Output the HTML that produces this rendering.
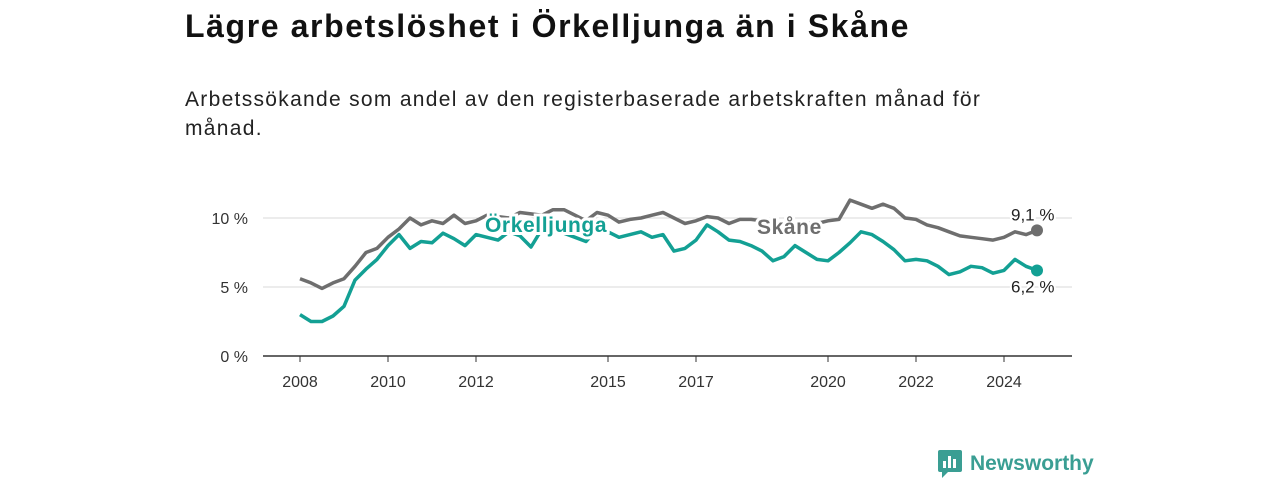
<!DOCTYPE html>
<html><head><meta charset="utf-8"><style>
body{margin:0;width:1280px;height:480px;background:#fff;font-family:"Liberation Sans",sans-serif;overflow:hidden;position:relative}
h1{position:absolute;left:185px;top:8px;margin:0;font-size:32px;font-weight:bold;color:#111;letter-spacing:1.6px}
p{position:absolute;left:185px;top:85px;margin:0;font-size:21px;line-height:29px;color:#222;width:860px;letter-spacing:1.3px}
svg{position:absolute;left:0;top:0}
</style></head><body>
<h1>Lägre arbetslöshet i Örkelljunga än i Skåne</h1>
<p>Arbetssökande som andel av den registerbaserade arbetskraften månad för månad.</p>
<svg id="c" width="1280" height="480"></svg>
<script>
const skane=[5.6,5.3,4.9,5.3,5.6,6.5,7.5,7.8,8.6,9.2,10.0,9.5,9.8,9.6,10.2,9.6,9.8,10.2,10.1,10.0,10.4,10.3,10.2,10.6,10.6,10.2,9.8,10.4,10.2,9.7,9.9,10.0,10.2,10.4,10.0,9.6,9.8,10.1,10.0,9.6,9.9,9.9,9.8,9.3,9.4,9.5,9.6,9.6,9.8,9.9,11.3,11.0,10.7,11.0,10.7,10.0,9.9,9.5,9.3,9.0,8.7,8.6,8.5,8.4,8.6,9.0,8.8,9.1];
const orkelljunga=[3.0,2.5,2.5,2.9,3.6,5.5,6.3,7.0,8.0,8.8,7.8,8.3,8.2,8.9,8.5,8.0,8.8,8.6,8.4,9.0,8.7,7.9,9.2,9.0,8.9,8.6,8.3,9.2,9.0,8.6,8.8,9.0,8.6,8.8,7.6,7.8,8.4,9.5,9.0,8.4,8.3,8.0,7.6,6.9,7.2,8.0,7.5,7.0,6.9,7.5,8.2,9.0,8.8,8.3,7.7,6.9,7.0,6.9,6.5,5.9,6.1,6.5,6.4,6.0,6.2,7.0,6.5,6.2];
const startYear=2008, step=0.25;
const yTicks=[0,5,10];
const xTicks=[2008,2010,2012,2015,2017,2020,2022,2024];
const X=t=>300+(t-2008)*44, Y=v=>356-v*13.8;
const svg=document.getElementById('c'),NS='http://www.w3.org/2000/svg';
function mk(tag,attrs,parent){const e=document.createElementNS(NS,tag);for(const k in attrs)e.setAttribute(k,attrs[k]);(parent||svg).appendChild(e);return e;}
yTicks.forEach(v=>{
 if(v>0){const g=mk('line',{x1:263,x2:1072,y1:Y(v),y2:Y(v),stroke:'#d8d8d8','stroke-width':1});
 
 }
 const t=mk('text',{x:248,y:Y(v)+6,'text-anchor':'end','font-size':16,fill:'#333'});t.textContent=v+' %';
 
 
});
const ax=mk('line',{x1:263,x2:1072,y1:356,y2:356,stroke:'#333','stroke-width':1.5});


xTicks.forEach(yr=>{
 mk('line',{x1:X(yr),x2:X(yr),y1:356,y2:362,stroke:'#333','stroke-width':1});
 const t=mk('text',{x:X(yr),y:387,'text-anchor':'middle','font-size':16,fill:'#333'});t.textContent=yr;
 
 
});
function path(arr){return arr.map((v,i)=>(i?'L':'M')+X(startYear+i*step).toFixed(1)+','+Y(v).toFixed(1)).join('');}
const l1=mk('path',{d:path(skane),fill:'none',stroke:'#6e6e6e','stroke-width':3.5,'stroke-linejoin':'round'});


const l2=mk('path',{d:path(orkelljunga),fill:'none',stroke:'#13a094','stroke-width':3.5,'stroke-linejoin':'round'});


function lab(txt,x,y,col,name,bold,size,ls){const t=mk('text',{x:x,y:y,'font-size':size,'font-weight':bold?'bold':'normal',fill:col,stroke:'#fff','stroke-width':bold?6:4,'paint-order':'stroke','letter-spacing':ls||0});t.textContent=txt;
 
 return t;}
lab('Örkelljunga',485,232,'#13a094','orkelljunga-label',true,21,0.6);
lab('Skåne',757,234,'#6e6e6e','skane-label',true,21,0.6);
const ls=skane.length-1,lx=X(startYear+ls*step);
const d1=mk('circle',{cx:lx,cy:Y(skane[ls]),r:6,fill:'#6e6e6e'});


const d2=mk('circle',{cx:lx,cy:Y(orkelljunga[ls]),r:6,fill:'#13a094'});


lab(skane[ls].toFixed(1).replace('.',',')+' %',1011,Y(skane[ls])-10,'#222','skane-end-value',false,17);
lab(orkelljunga[ls].toFixed(1).replace('.',',')+' %',1011,Y(orkelljunga[ls])+22,'#222','orkelljunga-end-value',false,17);
</script>
<div style="position:absolute;left:938px;top:450px;display:flex;align-items:center">
 <svg width="24" height="28" style="position:static"><rect x="0" y="0" width="24" height="22" rx="2" fill="#3a9e93"/><polygon points="4,22 10,22 4,28" fill="#3a9e93"/><rect x="5" y="11" width="3" height="7" fill="#fff"/><rect x="10" y="6" width="3" height="12" fill="#fff"/><rect x="15" y="9" width="3" height="9" fill="#fff"/></svg>
 <span style="margin-left:8px;font-size:21px;font-weight:bold;color:#3a9e93">Newsworthy</span>
</div>
</body></html>
